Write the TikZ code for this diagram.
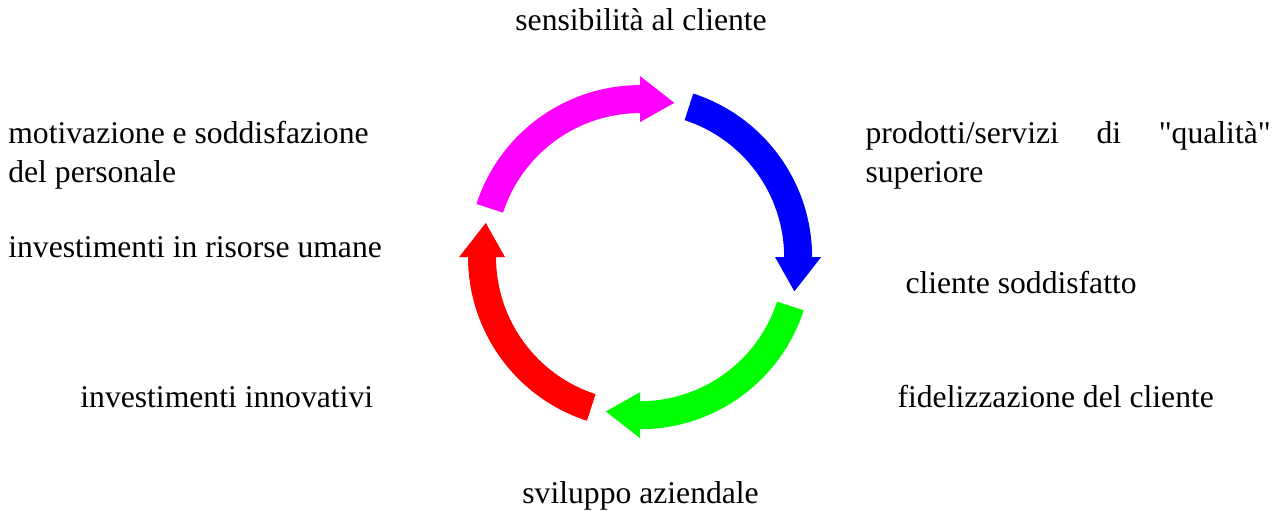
\documentclass[tikz,border=0pt]{standalone}
\usepackage{xcolor}
\usepackage{fontspec}
\setmainfont{Liberation Serif}
\usepackage{tikz}
\definecolor{cmag}{RGB}{255,0,255}
\definecolor{cblu}{RGB}{0,0,255}
\definecolor{cgrn}{RGB}{0,255,0}
\definecolor{cred}{RGB}{255,0,0}

\begin{document}
\begin{tikzpicture}[x=1cm, y=1cm, every node/.style={font=\fontsize{14.6}{18}\selectfont, inner sep=0pt}, lbl/.style={anchor=base west, align=left}]
\useasboundingbox (-10.38,-4.14) rectangle (10.41,4.17);
% the cycle: four thick curved arrows, each a quarter turn minus the gap
\foreach \s/\c in {162/cmag, 72/cblu, -18/cgrn, -108/cred}
  \fill[\c] (\s:2.79) arc[start angle=\s, end angle=\s-72, radius=2.79]
    -- ({\s-72}:2.936) -- ({\s-84.5}:2.563) -- ({\s-72}:2.19) -- ({\s-72}:2.336)
    arc[start angle=\s-72, end angle=\s, radius=2.336] -- cycle;
% labels round the cycle (two-line ones sit on their last baseline)
\node[anchor=base] (sens) at (0.016,3.682) {sensibilità al cliente};
\node[lbl] (prod) at (3.65,1.2165) {\makebox[6.57cm][s]{prodotti/servizi di \textquotedbl qualità\textquotedbl}\\superiore};
\node[lbl] (sodd) at (4.298,-0.584) {cliente soddisfatto};
\node[lbl] (fidel) at (4.169,-2.433) {fidelizzazione del cliente};
\node[anchor=base] (svil) at (0.008,-3.99) {sviluppo aziendale};
\node[lbl] (innov) at (-9.083,-2.433) {investimenti innovativi};
\node[lbl] (risorse) at (-10.251,0) {investimenti in risorse umane};
\node[lbl] (motiv) at (-10.251,1.2165) {motivazione e soddisfazione\\del personale};
\end{tikzpicture}
\end{document}
